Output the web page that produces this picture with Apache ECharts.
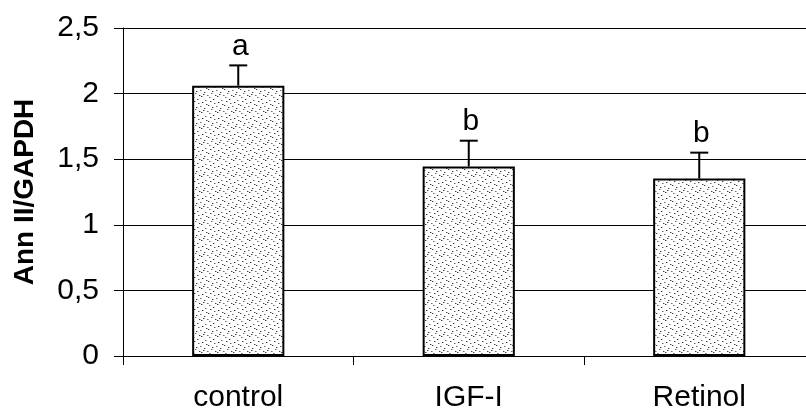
<!DOCTYPE html>
<html>
<head>
<meta charset="utf-8">
<script src="https://cdn.jsdelivr.net/npm/echarts@6/dist/echarts.min.js"></script>
<style>
html,body{margin:0;padding:0;background:#fff;}
#chart{width:806px;height:410px;}
</style>
</head>
<body>
<div id="chart"></div>
<script>
var categories = ['control', 'IGF-I', 'Retinol'];
var means = [2.06, 1.445, 1.352];
var errors = [0.155, 0.196, 0.198];
var letters = ['a', 'b', 'b'];
var yTickLabels = ['0', '0,5', '1', '1,5', '2', '2,5'];
var yAxisTitle = 'Ann II/GAPDH';

// stipple pattern tile for bar fill (hand-placed dots)
var pat = document.createElement('canvas');
pat.width = 16; pat.height = 16;
var pctx = pat.getContext('2d');
pctx.fillStyle = '#ffffff';
pctx.fillRect(0, 0, 16, 16);
var stipple = [[1,1],[9,0],[5,3],[13,4],[2,5],[10,6],[6,7],[14,8],
               [0,9],[8,10],[4,11],[12,12],[3,13],[11,14],[7,15],[15,15]];
stipple.forEach(function (d, k) {
  pctx.fillStyle = (k % 3 === 0) ? '#6a6a6a' : '#3c3c3c';
  pctx.fillRect(d[0], d[1], 1, 1);
  pctx.fillStyle = '#b4b4b4';
  pctx.fillRect((d[0] + 1) % 16, d[1], 1, 1);
});

var chart = echarts.init(document.getElementById('chart'), null, {renderer: 'canvas'});
var font = '"Liberation Sans", Arial, sans-serif';

chart.setOption({
  backgroundColor: '#ffffff',
  animation: false,
  grid: {left: 123, right: -8.5, top: 28, bottom: 54, containLabel: false, outerBoundsMode: 'none'},
  xAxis: {
    type: 'category',
    data: categories,
    boundaryGap: true,
    axisLine: {show: true, lineStyle: {color: '#000', width: 1}},
    axisTick: {show: true, length: 9, interval: 0, alignWithLabel: false, lineStyle: {color: '#000', width: 1}},
    axisLabel: {color: '#000', fontFamily: font, fontSize: 30, margin: 27, interval: 0},
    splitLine: {show: false}
  },
  yAxis: {
    type: 'value',
    min: 0, max: 2.5, interval: 0.5,
    name: yAxisTitle,
    nameLocation: 'middle',
    nameGap: 84,
    nameRotate: 90,
    nameTextStyle: {color: '#000', fontFamily: font, fontSize: 28, fontWeight: 'bold'},
    axisLine: {show: true, lineStyle: {color: '#000', width: 1}},
    axisTick: {show: true, length: 9, inside: false, lineStyle: {color: '#000', width: 1}},
    axisLabel: {
      color: '#000', fontFamily: font, fontSize: 30, margin: 24,
      formatter: function (v) { return yTickLabels[Math.round(v / 0.5)]; }
    },
    splitLine: {show: true, lineStyle: {color: '#000', width: 1}}
  },
  series: [
    {
      type: 'bar',
      data: means,
      barWidth: '40%',
      itemStyle: {
        color: {image: pat, repeat: 'repeat'},
        borderColor: '#000',
        borderWidth: 2
      },
      z: 2
    },
    {
      type: 'custom',
      z: 3,
      data: means.map(function (m, i) { return [i, m, m + errors[i]]; }),
      renderItem: function (params, api) {
        var i = api.value(0);
        var base = api.coord([i, api.value(1)]);
        var top = api.coord([i, api.value(2)]);
        var capHalf = 9;
        return {
          type: 'group',
          children: [
            {type: 'line', shape: {x1: base[0], y1: base[1], x2: top[0], y2: top[1]},
             style: {stroke: '#000', lineWidth: 2}},
            {type: 'line', shape: {x1: top[0] - capHalf, y1: top[1], x2: top[0] + capHalf, y2: top[1]},
             style: {stroke: '#000', lineWidth: 2}},
            {type: 'text', x: top[0] + 2, y: top[1] - 4,
             style: {text: letters[params.dataIndex], fill: '#000', font: '30px ' + font,
                     align: 'center', verticalAlign: 'bottom'}}
          ]
        };
      }
    }
  ]
});
</script>
</body>
</html>
